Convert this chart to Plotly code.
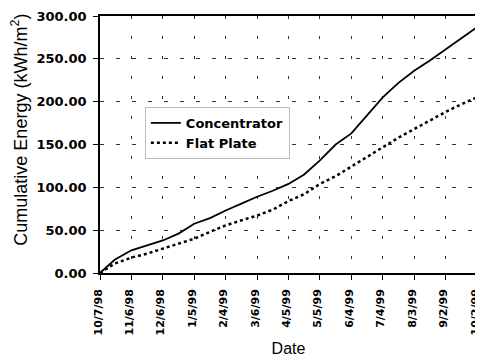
import plotly.graph_objects as go

dates = ["1998-10-07", "1998-10-21", "1998-11-06", "1998-11-21", "1998-12-06", "1998-12-21",
         "1999-01-05", "1999-01-20", "1999-02-04", "1999-02-19", "1999-03-06", "1999-03-21",
         "1999-04-05", "1999-04-20", "1999-05-05", "1999-05-20", "1999-06-04", "1999-06-19",
         "1999-07-04", "1999-07-19", "1999-08-03", "1999-08-18", "1999-09-02", "1999-09-17",
         "1999-10-02"]
concentrator = [0, 15.5, 26.5, 32, 38, 46, 57.5, 64, 73, 81, 89, 96, 104, 115, 131.5, 150,
                163, 184, 205, 222, 236, 248, 261, 273, 287]
flat_plate = [0, 11, 18, 22.6, 28.5, 34, 40, 48, 55.6, 61.5, 67, 74, 84, 92, 104, 113,
              124, 136, 147, 158, 168, 178, 188, 197, 205]

tick_dates = ["1998-10-07", "1998-11-06", "1998-12-06", "1999-01-05", "1999-02-04", "1999-03-06",
              "1999-04-05", "1999-05-05", "1999-06-04", "1999-07-04", "1999-08-03", "1999-09-02",
              "1999-10-02"]
tick_labels = ["10/7/98", "11/6/98", "12/6/98", "1/5/99", "2/4/99", "3/6/99", "4/5/99",
               "5/5/99", "6/4/99", "7/4/99", "8/3/99", "9/2/99", "10/2/99"]
y_ticks = [0, 50, 100, 150, 200, 250, 300]

fig = go.Figure()
fig.add_trace(go.Scatter(x=dates, y=concentrator, mode="lines", name="Concentrator",
                         line=dict(color="black", width=1.8), cliponaxis=False))
fig.add_trace(go.Scatter(x=dates, y=flat_plate, mode="lines", name="Flat Plate",
                         line=dict(color="black", width=2.5, dash="dot"), cliponaxis=False))

# page body has an 8px default margin, so the figure is sized to fit the window
fig.update_layout(
    width=475, height=352,
    margin=dict(l=92, r=6, t=8, b=87, autoexpand=False),
    paper_bgcolor="white", plot_bgcolor="white",
    font=dict(family="Liberation Sans, Arial", color="black"),
    legend=dict(x=0.119, y=0.646, xanchor="left", yanchor="top",
                bgcolor="white", bordercolor="#bbbbbb", borderwidth=1,
                font=dict(family="DejaVu Sans", size=13, weight="bold")),
    showlegend=True,
)
fig.update_xaxes(
    type="date", range=["1998-10-07", "1999-10-02"],
    tickvals=tick_dates, ticktext=tick_labels, tickangle=-90,
    tickfont=dict(family="DejaVu Sans", size=11, weight="bold"),
    ticklabeloverflow="allow", ticklabelstandoff=5, ticklabelshift=-2,
    showline=True, linecolor="black", linewidth=1.5, mirror=True,
    ticks="outside", ticklen=5, tickcolor="black",
    showgrid=True, gridcolor="#333333", gridwidth=1, griddash="3px,17px",
    title=dict(text="Date", font=dict(size=16), standoff=8),
    zeroline=False, automargin=False,
)
fig.update_yaxes(
    range=[0, 300], tickvals=y_ticks, tickformat=".2f",
    tickfont=dict(family="DejaVu Sans", size=13, weight="bold"),
    ticklabelstandoff=4,
    showline=True, linecolor="black", linewidth=1.5,
    ticks="outside", ticklen=5, tickcolor="black",
    showgrid=True, gridcolor="#333333", gridwidth=1, griddash="4px,12px",
    zeroline=False, automargin=False,
)
fig.add_annotation(text="Cumulative Energy (kWh/m<sup>2</sup>)", textangle=-90,
                   xref="paper", yref="paper", x=-0.212, y=0.558,
                   xanchor="center", yanchor="middle",
                   showarrow=False, font=dict(size=18, family="Liberation Sans, Arial"))

fig.write_html("out.html")
